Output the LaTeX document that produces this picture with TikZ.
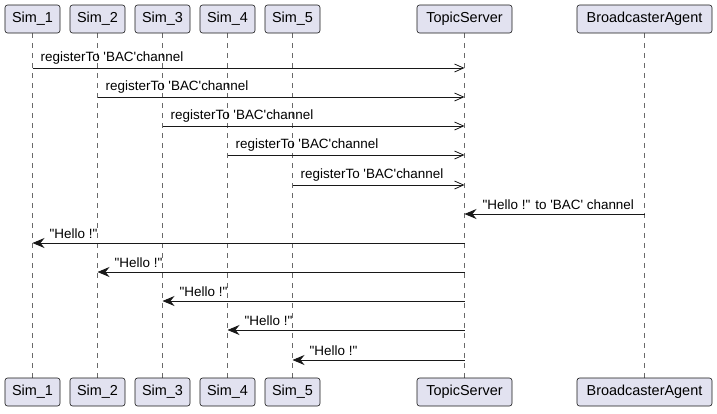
\documentclass[tikz,border=0pt]{standalone}
\usepackage{fontspec}
\setmainfont{Liberation Sans}
\usetikzlibrary{arrows.meta}
\definecolor{boxfill}{HTML}{E2E2F0}
\definecolor{umlline}{HTML}{181818}

\begin{document}
\begin{tikzpicture}[x=1bp, y=-1bp,
  actor/.style={draw=umlline, fill=boxfill, rounded corners=2.5bp, line width=0.6bp,
    minimum height=28bp, inner sep=0pt, font=\fontsize{14.5}{17}\selectfont},
  lifeline/.style={draw=umlline!65, dash pattern=on 5bp off 5bp, line width=0.6bp},
  async/.style={-{Straight Barb[length=9bp,width=8bp,line width=0.8bp]}, draw=umlline, line width=0.9bp},
  reply/.style={-{Stealth[length=12bp,width=10bp,inset=4bp]}, draw=umlline, line width=0.9bp},
  msg/.style={font=\fontsize{13.5}{16}\selectfont, anchor=south west, inner sep=0pt}]
  \useasboundingbox (0,0) rectangle (717,413);

  % participants, head and foot boxes
  \foreach \n/\t/\x/\w in {s1/Sim\_1/32.5/55, s2/Sim\_2/97.5/55, s3/Sim\_3/162.5/55,
      s4/Sim\_4/227.5/55, s5/Sim\_5/292.5/55, ts/TopicServer/464.5/95,
      ba/BroadcasterAgent/644.5/135}{
    \draw[lifeline] (\x,33) -- (\x,378);
    \node[actor, minimum width=\w bp] (\n-top) at (\x,19) {\t};
    \node[actor, minimum width=\w bp] (\n-bot) at (\x,392) {\t};
  }

  % registration
  \foreach \n/\y in {s1/68, s2/97, s3/126, s4/155, s5/185}{
    \coordinate (r-\n) at (0,\y);
    \draw[async] (\n-top.south |- r-\n) -- (ts-top.south |- r-\n);
    \node[msg] at ([xshift=8bp, yshift=4bp]\n-top.south |- r-\n)
      {registerTo \textquotesingle BAC\textquotesingle channel};
  }

  \coordinate (bc) at (0,214);
  \draw[reply] (ba-top.south |- bc) -- (ts-top.south |- bc);
  \node[msg] at ([xshift=18bp, yshift=4bp]ts-top.south |- bc)
    {\textquotedbl Hello !\textquotedbl{} to \textquotesingle BAC\textquotesingle{} channel};

  % broadcast back to every Sim
  \foreach \n/\y in {s1/243, s2/272, s3/301, s4/330, s5/360}{
    \coordinate (h-\n) at (0,\y);
    \draw[reply] (ts-top.south |- h-\n) -- (\n-top.south |- h-\n);
    \node[msg] at ([xshift=17bp, yshift=4bp]\n-top.south |- h-\n) {\textquotedbl Hello !\textquotedbl};
  }
\end{tikzpicture}
\end{document}
